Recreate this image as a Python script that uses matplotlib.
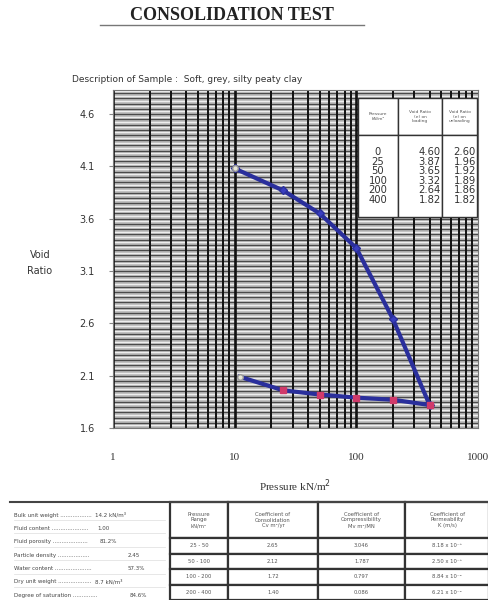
import numpy as np
import matplotlib.pyplot as plt

# pressures and void ratios from the test sheet
table_pressure = ['0', '25', '50', '100', '200', '400']
table_e_loading = ['4.60', '3.87', '3.65', '3.32', '2.64', '1.82']
table_e_unloading = ['2.60', '1.96', '1.92', '1.89', '1.86', '1.82']

# plotted curve (first point plotted at 10 kN/m2)
load_p = [10, 25, 50, 100, 200, 400]
load_e = [4.08, 3.87, 3.65, 3.32, 2.64, 1.82]
unload_p = [400, 200, 100, 50, 25, 11]
unload_e = [1.82, 1.87, 1.89, 1.92, 1.96, 2.09]

y_ticks = [1.6, 2.1, 2.6, 3.1, 3.6, 4.1, 4.6]
x_ticks = [1, 10, 100, 1000]

prop_names = ['Bulk unit weight', 'Fluid content', 'Fluid porosity', 'Particle density',
              'Water content', 'Dry unit weight', 'Degree of saturation']
prop_values = ['14.2 kN/m\u00b3', '1.00', '81.2%', '2.45', '57.3%', '8.7 kN/m\u00b3', '84.6%']

range_hdr = ['Pressure\nRange\nkN/m\u00b2', 'Coefficient of\nConsolidation\nCv m\u00b2/yr',
             'Coefficient of\nCompressibility\nMv m\u00b2/MN', 'Coefficient of\nPermeability\nK (m/s)']
ranges = ['25 - 50', '50 - 100', '100 - 200', '200 - 400']
cv = ['2.65', '2.12', '1.72', '1.40']
mv = ['3.046', '1.787', '0.797', '0.086']
perm = ['8.18 x 10\u207b\u2078', '2.50 x 10\u207b\u2078', '8.84 x 10\u207b\u2079', '6.21 x 10\u207b\u2079']

W, H = 489, 600
fig = plt.figure(figsize=(W / 100, H / 100), dpi=100)


def fx(px):
    return px / W


def fy(py):
    return 1 - py / H


# header texts
fig.text(fx(232), fy(16), 'CONSOLIDATION TEST', ha='center', va='center',
         family='Liberation Serif', fontweight='bold', fontsize=13, color='#222222')
fig.add_artist(plt.Line2D([fx(100), fx(364)], [fy(25), fy(25)], color='#777777', lw=1))
fig.text(fx(72), fy(80), 'Description of Sample :  Soft, grey, silty peaty clay',
         ha='left', va='center', fontsize=6.5, color='#333333')

# main chart
ax = fig.add_axes([fx(113), fy(428), fx(478) - fx(113), (428 - 90) / H])
ax.set_xscale('log')
ax.set_xlim(1, 1000)
ax.set_ylim(1.6, 4.83)
ax.set_facecolor('#b8b8b8')

for yv in np.arange(1.6, 4.85, 0.05):
    ax.axhline(yv, color='#4a4a4a', lw=0.9, zorder=1)
    ax.axhline(yv + 0.025, color='#eeeeee', lw=1.0, zorder=1)
for dec in [1, 10, 100]:
    for m in range(1, 10):
        ax.axvline(dec * m, color='#111111', lw=1.9 if m == 1 else 1.4, zorder=2)

ax.plot(load_p, load_e, color='#2a2f9c', lw=3, marker='D', ms=4,
        mfc='#3a3fc0', mec='#2a2f9c', zorder=4)
ax.plot(unload_p, unload_e, color='#2a2f9c', lw=3, zorder=4)
ax.plot(unload_p[:-1], unload_e[:-1], ls='none', marker='s', ms=5,
        mfc='#d03a6a', mec='#d03a6a', zorder=5)
ax.plot([load_p[0]], [load_e[0]], ls='none', marker='o', ms=4, mfc='#e8e8d8', mec='#999999', zorder=5)
ax.plot([unload_p[-1]], [unload_e[-1]], ls='none', marker='o', ms=4, mfc='#e8e8d8', mec='#999999', zorder=5)

ax.set_yticks(y_ticks)
ax.set_yticklabels([f'{v:.1f}' for v in y_ticks], fontsize=7, color='#333333')
ax.set_xticks(x_ticks)
ax.set_xticklabels([str(v) for v in x_ticks], family='Liberation Serif', fontsize=8, color='#333333')
ax.minorticks_off()
ax.tick_params(axis='y', length=3, pad=10, color='#888888')
ax.tick_params(axis='x', length=0, pad=18)
for s in ax.spines.values():
    s.set_color('#777777')
    s.set_linewidth(0.8)

fig.text(fx(40), fy(263), 'Void\nRatio', ha='center', va='center', fontsize=7,
         color='#333333', linespacing=1.8)
fig.text(fx(295), fy(486), 'Pressure kN/m$^2$', ha='center', va='center',
         family='Liberation Serif', fontsize=8, color='#333333')

# data table inside the chart
tbl = ax.table(
    cellText=[['Pressure\nkN/m\u00b2', 'Void Ratio\n(e) on\nloading', 'Void Ratio\n(e) on\nunloading'],
              ['\n'.join(table_pressure), '\n'.join(table_e_loading), '\n'.join(table_e_unloading)]],
    colWidths=[40 / 365, 44 / 365, 35 / 365],
    cellLoc='center', bbox=[(358 - 113) / 365, (428 - 217) / 338, 119 / 365, 119 / 338], zorder=6)
tbl.auto_set_font_size(False)
for (r, c), cell in tbl.get_celld().items():
    cell.set_facecolor('white')
    cell.set_edgecolor('#333333')
    cell.set_linewidth(1)
    cell.set_height(37 / 119 if r == 0 else 82 / 119)
    if r == 0:
        cell.get_text().set_fontsize(3.2)
        cell.get_text().set_color('#555555')
    else:
        cell.get_text().set_fontsize(7.2)
        cell.get_text().set_color('#333333')
        cell.get_text().set_linespacing(0.95)
        cell.get_text().set_ha('right' if c > 0 else 'center')
        cell.PAD = 0.03

# lower property block
fig.add_artist(plt.Line2D([fx(10), fx(489)], [fy(502), fy(502)], color='#444444', lw=1.5))
value_x = [95, 97, 100, 128, 128, 95, 130]
for i, (name, val) in enumerate(zip(prop_names, prop_values)):
    y = fy(515 + i * 13.4)
    fig.text(fx(14), y, name + ' ' + '.' * max(4, 28 - 2 * len(name) // 2 + 6),
             ha='left', va='center', fontsize=4, color='#444444', clip_on=False)
    fig.text(fx(value_x[i]), y, val, ha='left', va='center', fontsize=4, color='#444444',
             bbox=dict(facecolor='white', edgecolor='none', pad=0.5))
    fig.add_artist(plt.Line2D([fx(14), fx(165)], [y - 5 / H, y - 5 / H], color='#dddddd', lw=0.5))

tax = fig.add_axes([fx(170), fy(600), fx(489) - fx(170), 98 / H])
tax.axis('off')
rows = [range_hdr] + [[ranges[i], cv[i], mv[i], perm[i]] for i in range(4)]
bt = tax.table(cellText=rows, colWidths=[58 / 319, 90 / 319, 87 / 319, 84 / 319],
               cellLoc='center', bbox=[0, 0, 1, 1])
bt.auto_set_font_size(False)
for (r, c), cell in bt.get_celld().items():
    cell.set_edgecolor('#333333')
    cell.set_linewidth(1.6)
    cell.set_height(36 / 98 if r == 0 else 15.5 / 98)
    cell.get_text().set_fontsize(3.8)
    cell.get_text().set_color('#555555')

plt.savefig('out.png', dpi=100)
